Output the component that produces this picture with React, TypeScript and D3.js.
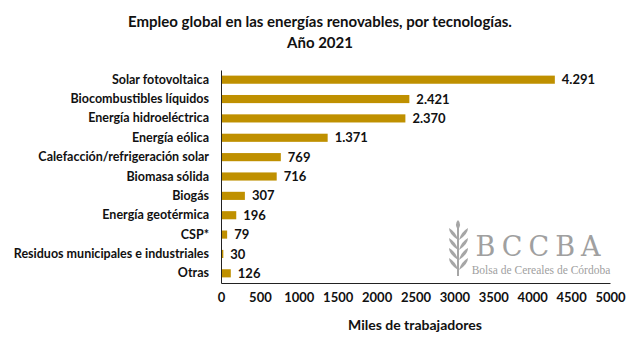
import React, { useRef, useEffect } from 'react';
import * as d3 from 'd3';

const categories = [
  'Solar fotovoltaica',
  'Biocombustibles líquidos',
  'Energía hidroeléctrica',
  'Energía eólica',
  'Calefacción/refrigeración solar',
  'Biomasa sólida',
  'Biogás',
  'Energía geotérmica',
  'CSP*',
  'Residuos municipales e industriales',
  'Otras',
];
const values = [4291, 2421, 2370, 1371, 769, 716, 307, 196, 79, 30, 126];
const xTicks = [0, 500, 1000, 1500, 2000, 2500, 3000, 3500, 4000, 4500, 5000];

const FONT = "Lato, 'Noto Sans', sans-serif";
const GOLD = '#BF9000';

function App() {
  const ref = useRef<SVGSVGElement>(null);

  useEffect(() => {
    const svg = d3.select(ref.current);
    svg.selectAll('*').remove();

    const left = 221, right = 610, top = 70, bottom = 283;

    const x = d3.scaleLinear().domain([0, 5000]).range([left, right]);
    const y = d3.scaleBand().domain(categories).range([top, bottom]).paddingInner(0.58).paddingOuter(0.29);

    // title
    const title = svg.append('text')
      .attr('x', 320).attr('text-anchor', 'middle')
      .attr('font-family', FONT).attr('font-weight', 'bold').attr('font-size', 15).attr('fill', '#111');
    title.append('tspan').attr('x', 320).attr('y', 27).text('Empleo global en las energías renovables, por tecnologías.');
    title.append('tspan').attr('x', 320).attr('y', 48).text('Año 2021');

    // logo (watermark)
    const logo = svg.append('g').attr('fill', '#a6a6a6');
    const leaf = logo.append('g').attr('transform', 'translate(458,224)');
    leaf.append('line').attr('x1', 0).attr('y1', 0).attr('x2', 0).attr('y2', 52)
      .attr('stroke', '#a6a6a6').attr('stroke-width', 2);
    [8, 18, 28, 38].forEach(yy => {
      leaf.append('path').attr('d', `M0,${yy + 8} Q-9,${yy + 2} -9,${yy - 4} Q-2,${yy} 0,${yy + 8}Z`);
      leaf.append('path').attr('d', `M1,${yy + 8} Q10,${yy + 2} 10,${yy - 4} Q3,${yy} 1,${yy + 8}Z`);
    });
    leaf.append('path').attr('d', 'M0,6 Q-4,0 0,-4 Q4,0 0,6Z');
    logo.append('text').attr('x', 541).attr('y', 256).attr('text-anchor', 'middle')
      .attr('font-family', "'DejaVu Serif', 'Liberation Serif', serif").attr('font-size', 27)
      .attr('letter-spacing', 6).attr('fill', '#a0a0a0').text('BCCBA');
    logo.append('text').attr('x', 541).attr('y', 274).attr('text-anchor', 'middle')
      .attr('font-family', "'Liberation Serif', serif").attr('font-size', 11.5)
      .attr('fill', '#a0a0a0').text('Bolsa de Cereales de Córdoba');

    // bars
    svg.append('g').selectAll('rect')
      .data(categories)
      .enter().append('rect')
      .attr('x', x(0))
      .attr('y', d => y(d)!)
      .attr('width', (d, i) => x(values[i]) - x(0))
      .attr('height', y.bandwidth())
      .attr('fill', GOLD);

    // value labels
    svg.append('g').selectAll('text')
      .data(categories)
      .enter().append('text')
      .attr('x', (d, i) => x(values[i]) + 7)
      .attr('y', d => y(d)! + y.bandwidth() / 2)
      .attr('dy', '0.35em')
      .attr('font-family', FONT).attr('font-weight', 'bold').attr('font-size', 13).attr('fill', '#111')
      .text((d, i) => d3.format(',')(values[i]).replace(/,/g, '.'));

    // axes
    const yAxis = svg.append('g')
      .attr('transform', `translate(${left},0)`)
      .call(d3.axisLeft(y).tickSize(0).tickPadding(12));
    yAxis.select('.domain').attr('stroke', '#222');
    yAxis.selectAll('text')
      .attr('font-family', FONT).attr('font-weight', 'bold').attr('font-size', 12.5).attr('fill', '#111');

    const xAxis = svg.append('g')
      .attr('transform', `translate(0,${bottom})`)
      .call(d3.axisBottom(x).tickValues(xTicks).tickFormat(d3.format('d')).tickSize(0).tickPadding(10));
    xAxis.select('.domain').attr('stroke', '#222');
    xAxis.selectAll('text')
      .attr('font-family', FONT).attr('font-weight', 'bold').attr('font-size', 13).attr('fill', '#111');

    svg.append('text')
      .attr('x', 415).attr('y', 330).attr('text-anchor', 'middle')
      .attr('font-family', FONT).attr('font-weight', 'bold').attr('font-size', 14).attr('fill', '#111')
      .text('Miles de trabajadores');
  }, []);

  return <svg ref={ref} width={640} height={350} style={{ position: 'absolute', left: 0, top: 0 }}></svg>;
}

export default App;
